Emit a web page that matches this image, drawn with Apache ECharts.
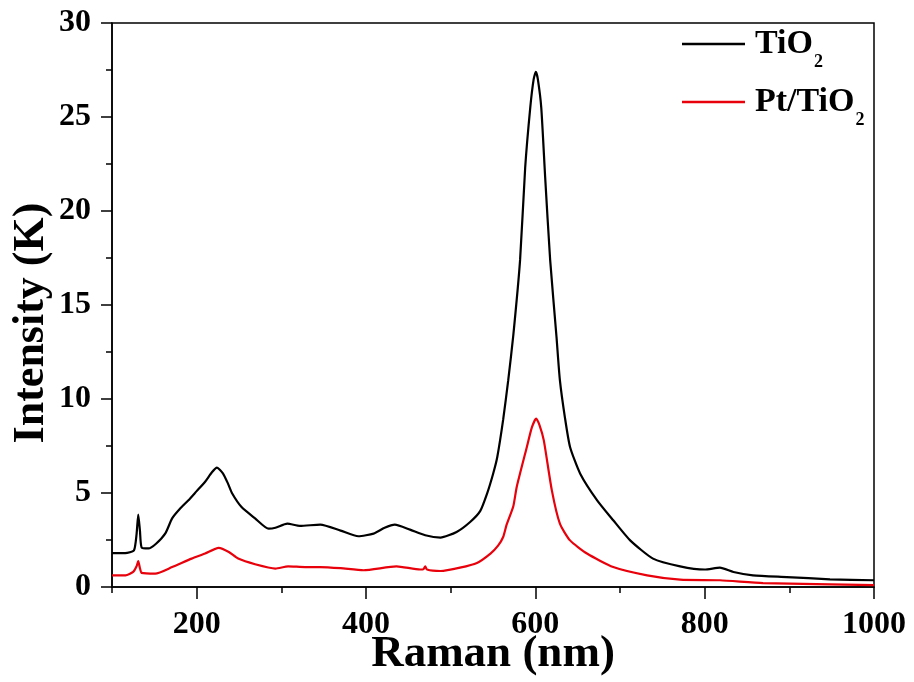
<!DOCTYPE html>
<html>
<head>
<meta charset="utf-8">
<script src="https://cdn.jsdelivr.net/npm/echarts@6/dist/echarts.min.js"></script>
<style>
  html, body { margin: 0; padding: 0; background: #fff; }
  #chart { width: 914px; height: 682px; }
</style>
</head>
<body>
<div id="chart"></div>
<script>
// Raman spectra of bare TiO2 and Pt-loaded TiO2
const seriesNames = ['TiO2', 'Pt/TiO2'];

const tio2Shift = [100, 118, 126, 129, 131, 133, 135, 143, 152, 163, 171, 180, 190, 200, 210, 218, 224, 231, 237, 242, 253, 269, 285, 293, 307, 322, 346, 370, 391, 409, 422, 434, 452, 470, 488, 507, 523, 535, 543, 550, 555, 562, 568, 574, 582, 588, 594, 598, 600.6, 603, 607, 611.6, 617.5, 625, 629, 635, 641, 653, 673, 692, 712, 739, 771, 800, 818, 834, 857, 897, 948, 1000];
const tio2Intensity = [1.80, 1.82, 1.95, 2.8, 3.85, 3.0, 2.1, 2.05, 2.3, 2.85, 3.65, 4.15, 4.6, 5.1, 5.6, 6.1, 6.35, 6.05, 5.5, 4.97, 4.25, 3.65, 3.1, 3.15, 3.37, 3.25, 3.32, 3.0, 2.7, 2.84, 3.15, 3.32, 3.05, 2.75, 2.63, 2.93, 3.46, 4.05, 4.97, 6.0, 6.9, 8.9, 11.0, 13.4, 17.4, 22.3, 25.5, 27.0, 27.4, 27.0, 25.5, 21.8, 17.4, 13.3, 11.0, 9.0, 7.45, 6.03, 4.61, 3.55, 2.48, 1.51, 1.1, 0.93, 1.03, 0.80, 0.62, 0.53, 0.41, 0.36];

const ptShift = [100, 116, 125, 129, 131, 133, 135, 151, 171, 194, 210, 226, 238, 249, 269, 293, 308, 328, 346, 370, 397, 436, 464, 468, 470, 472, 488, 511, 531, 547, 556, 562, 566, 574, 578, 590, 596, 601, 605, 610, 619.5, 629, 641, 661, 692, 732, 771, 818, 869, 1000];
const ptIntensity = [0.62, 0.62, 0.8, 1.1, 1.38, 1.0, 0.75, 0.71, 1.06, 1.51, 1.78, 2.08, 1.86, 1.51, 1.21, 0.98, 1.1, 1.06, 1.06, 1.0, 0.89, 1.1, 0.93, 0.95, 1.1, 0.93, 0.85, 1.03, 1.28, 1.78, 2.2, 2.66, 3.3, 4.3, 5.32, 7.45, 8.5, 8.96, 8.6, 7.8, 5.14, 3.37, 2.48, 1.78, 1.06, 0.62, 0.39, 0.36, 0.21, 0.1];

const xMajorTicks = [200, 400, 600, 800, 1000];
const xMinorTicks = [100, 300, 500, 700, 900];

const pair = (xs, ys) => xs.map((x, i) => [x, ys[i]]);

const serif = '"Liberation Serif", "Times New Roman", serif';
const chart = echarts.init(document.getElementById('chart'));

chart.setOption({
  backgroundColor: '#fff',
  animation: false,
  grid: {
    left: 112, right: 40, top: 23, bottom: 95,
    outerBoundsMode: 'none', containLabel: false,
    show: true, borderColor: '#000', borderWidth: 1.5, backgroundColor: 'transparent'
  },
  legend: {
    orient: 'vertical',
    left: 682, top: 27,
    padding: 0,
    itemGap: 14,
    icon: 'rect',
    itemWidth: 63, itemHeight: 2.5,
    data: seriesNames,
    formatter: name => name === 'TiO2' ? '{m|TiO}{s|2}' : '{m|Pt/TiO}{s|2}',
    textStyle: {
      padding: [0, 0, 0, 5],
      rich: {
        m: { fontFamily: serif, fontWeight: 'bold', fontSize: 34, color: '#000' },
        s: { fontFamily: serif, fontWeight: 'bold', fontSize: 18, color: '#000', padding: [36, 0, 0, 1] }
      }
    }
  },
  xAxis: [{
    type: 'value', min: 100, max: 1000,
    name: 'Raman (nm)', nameLocation: 'middle', nameGap: 45, nameMoveOverlap: false,
    nameTextStyle: { fontFamily: serif, fontWeight: 'bold', fontSize: 45, color: '#000' },
    axisLine: { show: true, onZero: false, lineStyle: { color: '#000', width: 1.5 } },
    axisTick: { show: true, customValues: xMajorTicks, length: 12, lineStyle: { color: '#000', width: 1.5 } },
    axisLabel: {
      customValues: xMajorTicks, margin: 22, formatter: v => String(v),
      fontFamily: serif, fontWeight: 'bold', fontSize: 32, color: '#000'
    },
    splitLine: { show: false }
  }, {
    type: 'value', min: 100, max: 1000, position: 'bottom',
    axisLine: { show: false },
    axisTick: { show: true, customValues: xMinorTicks, length: 6, lineStyle: { color: '#000', width: 1.5 } },
    axisLabel: { show: false },
    splitLine: { show: false }
  }],
  yAxis: {
    type: 'value', min: 0, max: 30, interval: 5,
    axisLine: { show: true, lineStyle: { color: '#000', width: 1.5 } },
    axisTick: { show: true, length: 11, lineStyle: { color: '#000', width: 1.5 } },
    minorTick: { show: true, splitNumber: 2, length: 6, lineStyle: { color: '#000', width: 1.5 } },
    axisLabel: { margin: 21, fontFamily: serif, fontWeight: 'bold', fontSize: 32, color: '#000' },
    splitLine: { show: false }
  },
  graphic: [{
    type: 'text', x: 32, y: 323, rotation: Math.PI / 2,
    style: {
      text: 'Intensity (K)', fontFamily: serif, fontWeight: 'bold', fontSize: 44,
      fill: '#000', align: 'center', verticalAlign: 'middle'
    }
  }],
  series: [{
    name: seriesNames[0], type: 'line', xAxisIndex: 0,
    data: pair(tio2Shift, tio2Intensity),
    showSymbol: false, smooth: 0.2,
    lineStyle: { color: '#000', width: 2.2 }, itemStyle: { color: '#000' }
  }, {
    name: seriesNames[1], type: 'line', xAxisIndex: 0,
    data: pair(ptShift, ptIntensity),
    showSymbol: false, smooth: 0.2,
    lineStyle: { color: '#e8000b', width: 2.2 }, itemStyle: { color: '#e8000b' }
  }]
});
</script>
</body>
</html>
